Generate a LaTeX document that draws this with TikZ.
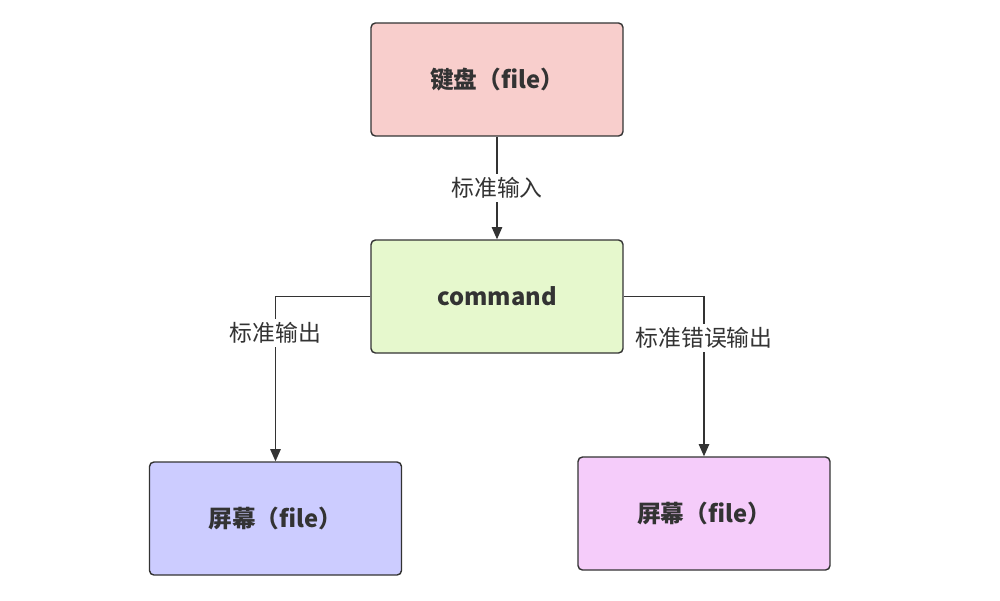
\documentclass[tikz,border=0pt]{standalone}
\usepackage{fontspec}
\setmainfont{Noto Sans CJK SC}
\usetikzlibrary{arrows.meta}
\definecolor{linec}{HTML}{333333}
\definecolor{redf}{HTML}{F8CECC}
\definecolor{greenf}{HTML}{E6F8CD}
\definecolor{bluef}{HTML}{CCCCFF}
\definecolor{pinkf}{HTML}{F5CCFA}
\begin{document}
\begin{tikzpicture}[x=0.02cm,y=-0.02cm,
  boxst/.style={draw=linec,line width=0.8pt,rounded corners=2.5pt,minimum width=5.04cm,minimum height=2.26cm,inner sep=0pt,font=\fontsize{13.5}{16}\selectfont\bfseries,text=linec},
  conn/.style={draw=linec,line width=0.75pt,-{Triangle[length=7pt,width=6pt]}},
  lab/.style={fill=white,inner sep=2pt,font=\fontsize{13}{15}\selectfont,text=linec}]
\useasboundingbox (0,0) rectangle (1000,600);
\node[boxst,fill=redf] (kb) at (497,79.5) {键盘（file）};
\node[boxst,fill=greenf] (cmd) at (497,296.5) {command};
\node[boxst,fill=bluef] (scr1) at (275.5,518.5) {屏幕（file）};
\node[boxst,fill=pinkf] (scr2) at (704,513.5) {屏幕（file）};
\draw[conn] (kb) -- node[lab,pos=0.5] {标准输入} (cmd);
\draw[conn] (cmd.west) -| node[lab,pos=0.61] {标准输出} (scr1.north);
\draw[conn] (cmd.east) -| node[lab,pos=0.63] {标准错误输出} (scr2.north);
\end{tikzpicture}
\end{document}
